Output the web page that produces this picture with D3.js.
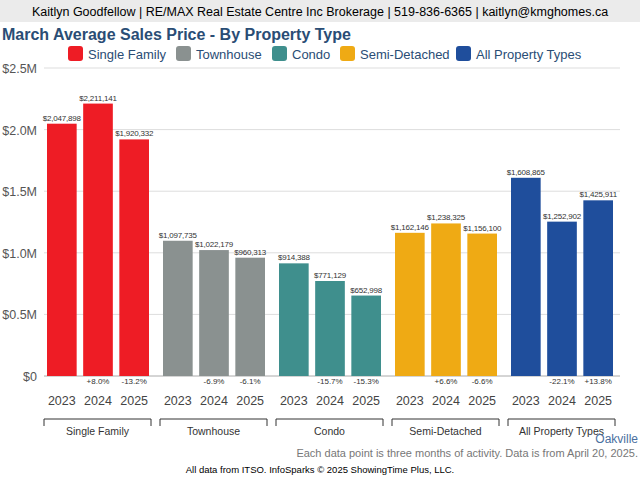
<!DOCTYPE html>
<html><head><meta charset="utf-8">
<script src="https://cdn.jsdelivr.net/npm/d3@7"></script>
<style>body{margin:0;font-family:"Liberation Sans",Arial,sans-serif}</style>
</head><body><svg width="640" height="480"></svg>
<script>
const types = ["Single Family", "Townhouse", "Condo", "Semi-Detached", "All Property Types"];
const colors = ["#ee1c25", "#8a9190", "#3f8f8d", "#efaa14", "#1f4e9c"];
const years = ["2023", "2024", "2025"];
const prices = [
  [2047898, 2211141, 1920332],
  [1097735, 1022179, 960313],
  [914388, 771129, 652998],
  [1162146, 1238325, 1156100],
  [1608865, 1252902, 1425911]
];
const changes = [
  ["", "+8.0%", "-13.2%"],
  ["", "-6.9%", "-6.1%"],
  ["", "-15.7%", "-15.3%"],
  ["", "+6.6%", "-6.6%"],
  ["", "-22.1%", "+13.8%"]
];
const yTicks = [0, 500000, 1000000, 1500000, 2000000, 2500000];
const yLabels = ["$0", "$0.5M", "$1.0M", "$1.5M", "$2.0M", "$2.5M"];

const svg = d3.select("svg");
const fmt = d3.format("$,");
svg.append("rect").attr("width", 640).attr("height", 22).attr("fill", "#ebebeb");
svg.append("text").attr("x", 320).attr("y", 16).attr("text-anchor", "middle")
  .attr("font-size", 12.5).text("Kaitlyn Goodfellow | RE/MAX Real Estate Centre Inc Brokerage | 519-836-6365 | kaitlyn@kmghomes.ca");
svg.append("text").attr("x", 2).attr("y", 40).attr("font-size", 16).attr("font-weight", "bold")
  .attr("fill", "#2a4d75").text("March Average Sales Price - By Property Type");

// legend
const legX = [68, 176, 272, 340, 456];
types.forEach((t, i) => {
  const g = svg.append("g").attr("transform", `translate(${legX[i]},46)`);
  g.append("rect").attr("width", 15).attr("height", 15).attr("rx", 3).attr("fill", colors[i]);
  g.append("text").attr("x", 20).attr("y", 12.5).attr("font-size", 13).attr("fill", "#2a4d75").text(t);
});

const y = d3.scaleLinear().domain([0, 2500000]).range([376, 68]);
const x0 = d3.scaleBand().domain(types).range([42, 622]);
const x1 = d3.scaleBand().domain(years).range([5, 107]).paddingInner(0.18);

yTicks.forEach((v, i) => {
  svg.append("line").attr("x1", 44).attr("x2", 620).attr("y1", y(v)).attr("y2", y(v))
    .attr("stroke", v === 0 ? "#aaa" : "#ddd");
  svg.append("text").attr("x", 37).attr("y", y(v) + 5).attr("text-anchor", "end")
    .attr("font-size", 12.5).attr("fill", "#555").text(yLabels[i]);
});

types.forEach((t, i) => {
  const g = svg.append("g").attr("transform", `translate(${x0(t)},0)`);
  years.forEach((yr, j) => {
    const cx = x1(yr) + x1.bandwidth() / 2;
    g.append("rect").attr("x", x1(yr)).attr("width", x1.bandwidth())
      .attr("y", y(prices[i][j])).attr("height", y(0) - y(prices[i][j])).attr("fill", colors[i]);
    g.append("text").attr("x", cx).attr("y", y(prices[i][j]) - 3).attr("text-anchor", "middle")
      .attr("font-size", 8).attr("fill", "#333").attr("letter-spacing", -0.2).text(fmt(prices[i][j]));
    g.append("text").attr("x", cx).attr("y", 384).attr("text-anchor", "middle")
      .attr("font-size", 8).attr("fill", "#333").text(changes[i][j]);
    g.append("text").attr("x", cx).attr("y", 405).attr("text-anchor", "middle")
      .attr("font-size", 12.5).attr("fill", "#444").text(yr);
  });
  g.append("path").attr("d", "M2,426V419H109V426").attr("fill", "none").attr("stroke", "#333");
  g.append("text").attr("x", 55.5).attr("y", 435).attr("text-anchor", "middle")
    .attr("font-size", 10.5).attr("fill", "#333").text(t);
});

svg.append("text").attr("x", 638).attr("y", 443).attr("text-anchor", "end").attr("font-size", 12)
  .attr("fill", "#4a6fa0").text("Oakville");
svg.append("text").attr("x", 638).attr("y", 457).attr("text-anchor", "end").attr("font-size", 11)
  .attr("fill", "#777").text("Each data point is three months of activity. Data is from April 20, 2025.");
svg.append("text").attr("x", 320).attr("y", 473).attr("text-anchor", "middle").attr("font-size", 9.5)
  .text("All data from ITSO. InfoSparks © 2025 ShowingTime Plus, LLC.");
</script></body></html>
